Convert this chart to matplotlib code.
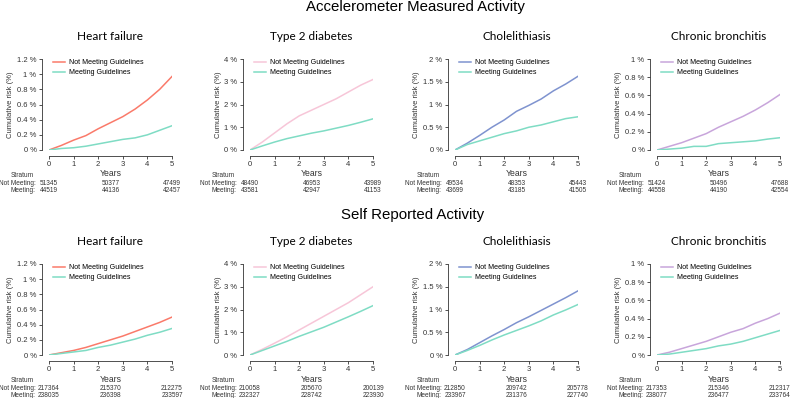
import matplotlib.pyplot as plt
import numpy as np

# time points (years)
years = [0, 0.5, 1, 1.5, 2, 2.5, 3, 3.5, 4, 4.5, 5]

diseases = ["Heart failure", "Type 2 diabetes", "Cholelithiasis", "Chronic bronchitis"]
ymax = [1.2, 4, 2, 1]
yticks = [[0, 0.2, 0.4, 0.6, 0.8, 1.0, 1.2], [0, 1, 2, 3, 4], [0, 0.5, 1, 1.5, 2],
          [0, 0.2, 0.4, 0.6, 0.8, 1.0]]
not_colors = ["#fa7a6a", "#f7c6d8", "#7f93cf", "#c8a5db"]
meet_color = "#7fdcc4"

# accelerometer measured activity
acc_not = [
    [0, 0.06, 0.13, 0.19, 0.28, 0.36, 0.44, 0.54, 0.66, 0.80, 0.97],
    [0, 0.35, 0.75, 1.15, 1.50, 1.75, 2.00, 2.25, 2.55, 2.85, 3.10],
    [0, 0.15, 0.32, 0.50, 0.66, 0.85, 0.98, 1.12, 1.30, 1.45, 1.62],
    [0, 0.04, 0.08, 0.13, 0.18, 0.25, 0.31, 0.37, 0.44, 0.52, 0.61],
]
acc_meet = [
    [0, 0.02, 0.03, 0.05, 0.08, 0.11, 0.14, 0.16, 0.20, 0.26, 0.32],
    [0, 0.18, 0.35, 0.50, 0.62, 0.74, 0.84, 0.96, 1.08, 1.22, 1.37],
    [0, 0.12, 0.20, 0.28, 0.36, 0.42, 0.50, 0.55, 0.62, 0.69, 0.73],
    [0, 0.01, 0.02, 0.04, 0.04, 0.07, 0.08, 0.09, 0.10, 0.12, 0.135],
]
acc_n_not = [["51345", "50377", "47499"], ["48490", "46953", "43989"],
             ["49534", "48353", "45443"], ["51424", "50496", "47688"]]
acc_n_meet = [["44519", "44136", "42457"], ["43581", "42947", "41153"],
              ["43699", "43185", "41505"], ["44558", "44190", "42554"]]

# self reported activity
self_not = [
    [0, 0.03, 0.06, 0.10, 0.15, 0.20, 0.25, 0.31, 0.37, 0.43, 0.50],
    [0, 0.25, 0.52, 0.80, 1.10, 1.40, 1.70, 2.00, 2.30, 2.65, 3.00],
    [0, 0.12, 0.27, 0.42, 0.56, 0.71, 0.84, 0.98, 1.12, 1.26, 1.41],
    [0, 0.03, 0.07, 0.11, 0.15, 0.20, 0.25, 0.29, 0.35, 0.40, 0.46],
]
self_meet = [
    [0, 0.02, 0.04, 0.06, 0.10, 0.13, 0.17, 0.21, 0.26, 0.30, 0.35],
    [0, 0.20, 0.40, 0.60, 0.82, 1.02, 1.22, 1.45, 1.68, 1.92, 2.17],
    [0, 0.10, 0.21, 0.33, 0.44, 0.54, 0.64, 0.75, 0.88, 0.99, 1.11],
    [0, 0.01, 0.03, 0.05, 0.07, 0.10, 0.12, 0.15, 0.19, 0.23, 0.27],
]
self_n_not = [["217364", "215370", "212275"], ["210058", "205670", "200139"],
              ["212850", "209742", "205778"], ["217353", "215346", "212317"]]
self_n_meet = [["238035", "236398", "233597"], ["232327", "228742", "223930"],
               ["233967", "231376", "227740"], ["238077", "236477", "233764"]]
table_x = [0, 2.5, 5]

plt.rcParams['font.family'] = ['Liberation Sans', 'DejaVu Sans']
W, H = 791, 398
fig = plt.figure(figsize=(W / 100, H / 100), dpi=100)

x_left = [49, 250, 455, 657]
x_w = 123
rows = [(59, 150), (264, 355)]
txt_col = "#333333"


def fmt(v):
    return ("%g" % v) + " %"


def panel(ax, i, not_vals, meet_vals, n_not, n_meet):
    ax.plot(years, not_vals, color=not_colors[i], lw=1.1, label="Not Meeting Guidelines")
    ax.plot(years, meet_vals, color=meet_color, lw=1.1, label="Meeting Guidelines")
    ax.set_xlim(0, 5)
    ax.set_ylim(0, ymax[i])
    ax.set_xticks([0, 1, 2, 3, 4, 5])
    ax.set_yticks(yticks[i])
    ax.set_yticklabels([fmt(v) for v in yticks[i]])
    for s in ["top", "right"]:
        ax.spines[s].set_visible(False)
    ax.spines["left"].set_position(("outward", 5))
    ax.spines["bottom"].set_position(("outward", 4))
    for s in ["left", "bottom"]:
        ax.spines[s].set_linewidth(0.6)
        ax.spines[s].set_color(txt_col)
    ax.tick_params(labelsize=5.5, width=0.6, length=2.5, pad=1.5, colors=txt_col)
    ax.set_xlabel("Years", fontsize=6.2, labelpad=1, color=txt_col)
    ax.set_ylabel("Cumulative risk (%)", fontsize=5.5, labelpad=2, color=txt_col)
    ax.set_title(diseases[i], fontsize=8.5, family=['Lato', 'DejaVu Sans'], pad=14)
    ax.legend(loc="upper left", bbox_to_anchor=(0.01, 1.03), frameon=False, fontsize=5.1,
              handlelength=1.7, handletextpad=0.6, labelspacing=0.45, borderaxespad=0)
    # number at risk table
    tr = ax.get_xaxis_transform()
    ax.text(-1.1, -0.285, "Stratum", transform=tr, fontsize=4.7, ha="center", va="center",
            color=txt_col)
    ax.text(-0.55, -0.365, "Not Meeting:", transform=tr, fontsize=4.7, ha="right",
            va="center", color=txt_col)
    ax.text(-0.55, -0.44, "Meeting:", transform=tr, fontsize=4.7, ha="right", va="center",
            color=txt_col)
    for k, xv in enumerate(table_x):
        ax.text(xv, -0.365, n_not[k], transform=tr, fontsize=4.7, ha="center", va="center",
                color=txt_col)
        ax.text(xv, -0.44, n_meet[k], transform=tr, fontsize=4.7, ha="center", va="center",
                color=txt_col)


for r, (ytop, ybot) in enumerate(rows):
    for i in range(4):
        ax = fig.add_axes([x_left[i] / W, 1 - ybot / H, x_w / W, (ybot - ytop) / H])
        if r == 0:
            panel(ax, i, acc_not[i], acc_meet[i], acc_n_not[i], acc_n_meet[i])
        else:
            panel(ax, i, self_not[i], self_meet[i], self_n_not[i], self_n_meet[i])

fig.text(415 / W, 1 - 7 / H, "Accelerometer Measured Activity", fontsize=10.8,
         ha="center", va="center")
fig.text(413 / W, 1 - 215 / H, "Self Reported Activity", fontsize=10.8,
         ha="center", va="center")

fig.savefig("out.png", dpi=100)
